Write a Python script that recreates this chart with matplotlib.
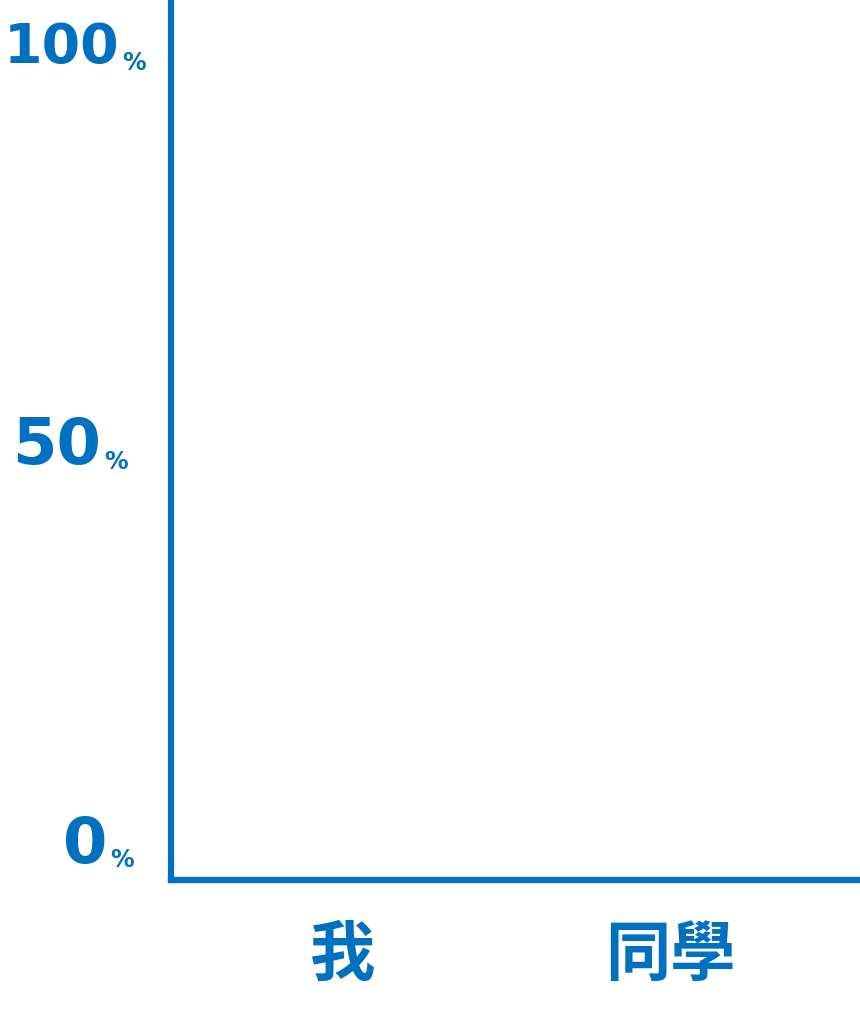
import matplotlib
matplotlib.use("Agg")
import matplotlib.pyplot as plt
from matplotlib.transforms import blended_transform_factory

categories = ["我", "同學"]
values = [0, 0]  # no bars drawn in the reference
yticks = [0, 50, 100]
ytick_labels = ["0", "50", "100"]

BLUE = "#0070C0"
plt.rcParams['font.family'] = ['Noto Sans CJK TC', 'DejaVu Sans']

fig = plt.figure(figsize=(8.6, 10.19), dpi=100)
W, H = 860, 1019
ax = fig.add_axes([171 / W, 1 - 880 / H, (860 - 171) / W, 880 / H])

x = list(range(len(categories)))
ax.bar(x, values, color=BLUE, width=0.5)
ax.set_xlim(-0.526, 1.581)
ax.set_ylim(-4.39, 106.0)

for s in ["top", "right"]:
    ax.spines[s].set_visible(False)
for s in ["left", "bottom"]:
    ax.spines[s].set_color(BLUE)
    ax.spines[s].set_linewidth(4.5)
    ax.spines[s].set_capstyle("projecting")

ax.set_xticks(x)
ax.set_xticklabels(categories, fontsize=47, fontweight="black", color=BLUE)
ax.tick_params(axis="x", length=0, pad=30)

ax.set_yticks(yticks)
ax.set_yticklabels([])
ax.tick_params(axis="y", length=0)

trans = blended_transform_factory(fig.transFigure, ax.transData)
num_right = [107, 101, 119]
num_size = [46, 46, 40]
for v, lab, nr, fs in zip(yticks, ytick_labels, num_right, num_size):
    ax.text(nr / W, v, lab, transform=trans, ha="right", va="center",
            fontsize=fs, fontweight="bold", color=BLUE, clip_on=False,
            family="DejaVu Sans")
    ax.text((nr + 3) / W, v - 1.9, "%", transform=trans, ha="left", va="center",
            fontsize=17, fontweight="bold", color=BLUE, clip_on=False,
            family="DejaVu Sans")

fig.savefig("out.png", dpi=100, facecolor="white")
